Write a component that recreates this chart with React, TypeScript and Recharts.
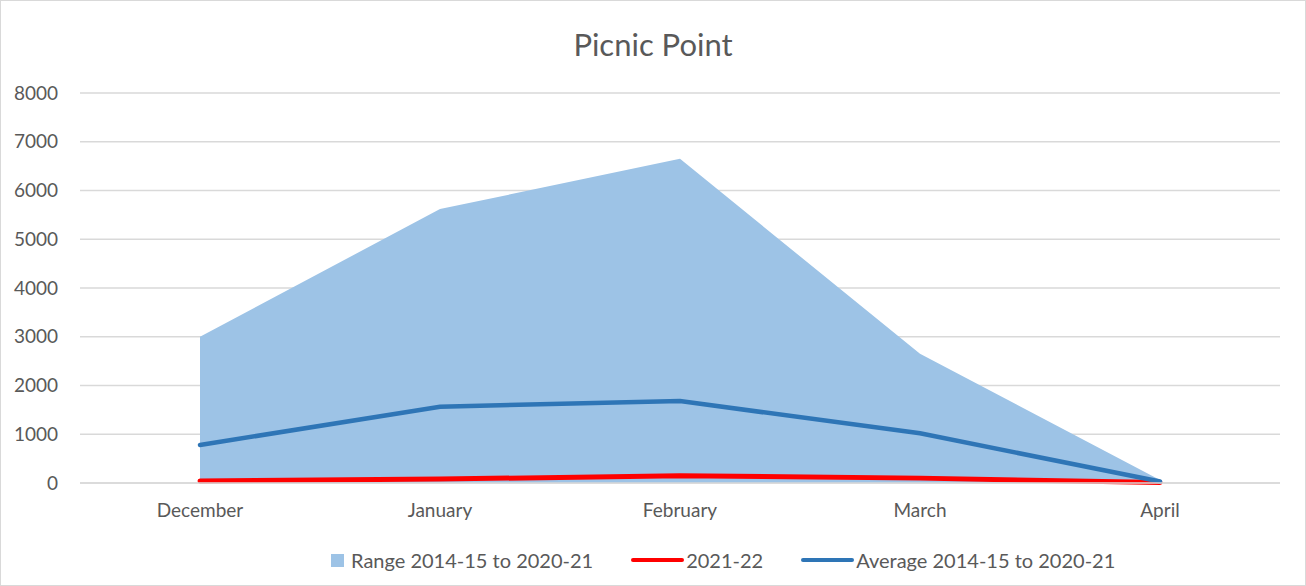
import React from 'react';
import { ComposedChart, Area, Line, XAxis, YAxis, CartesianGrid } from 'recharts';

const months = ['December', 'January', 'February', 'March', 'April'];
const rangeLow = [0, 0, 0, 0, 0];
const rangeHigh = [3000, 5620, 6650, 2650, 60];
const average = [780, 1565, 1680, 1020, 30];
const season2122 = [40, 80, 150, 100, 10];
const yTicks = [0, 1000, 2000, 3000, 4000, 5000, 6000, 7000, 8000];

const FONT = 'Lato, "Open Sans", sans-serif';
const TEXT = '#595959';

const data = months.map((m, i) => ({
  month: m,
  range: [rangeLow[i], rangeHigh[i]],
  avg: average[i],
  current: season2122[i],
}));

const legendItems = [
  { label: 'Range 2014-15 to 2020-21', color: '#9dc3e6', kind: 'box' },
  { label: '2021-22', color: '#ff0000', kind: 'line' },
  { label: 'Average 2014-15 to 2020-21', color: '#2e75b6', kind: 'line' },
];

export default function App() {
  return (
    <div
      style={{
        position: 'absolute',
        left: 0,
        top: 0,
        width: 1306,
        height: 586,
        boxSizing: 'border-box',
        border: '1px solid #d9d9d9',
        background: '#fff',
        fontFamily: FONT,
      }}
    >
      <div
        style={{
          position: 'absolute',
          left: 0,
          right: 0,
          top: 24,
          textAlign: 'center',
          fontSize: 31,
          color: TEXT,
          lineHeight: '38px',
        }}
      >
        Picnic Point
      </div>
      <ComposedChart
        width={1304}
        height={584}
        data={data}
        margin={{ top: 92, right: 25, bottom: 62, left: -1 }}
        style={{ position: 'absolute', left: 0, top: 0 }}
      >
        <CartesianGrid vertical={false} stroke="#d9d9d9" strokeWidth={1.3} />
        <XAxis
          dataKey="month"
          tickLine={false}
          axisLine={{ stroke: '#d9d9d9', strokeWidth: 1.3 }}
          tick={{ fontSize: 19, fill: TEXT, fontFamily: FONT }}
          tickMargin={15}
          padding={{ left: 120, right: 120 }}
          height={40}
        />
        <YAxis
          domain={[0, 8000]}
          ticks={yTicks}
          tickLine={false}
          axisLine={false}
          width={80}
          tick={{ fontSize: 19, fill: TEXT, fontFamily: FONT }}
          tickMargin={16}
        />
        <Area
          type="linear"
          dataKey="range"
          fill="#9dc3e6"
          fillOpacity={1}
          stroke="none"
          isAnimationActive={false}
        />
        <Line
          type="linear"
          dataKey="current"
          stroke="#ff0000"
          strokeWidth={5}
          strokeLinecap="round"
          dot={false}
          isAnimationActive={false}
        />
        <Line
          type="linear"
          dataKey="avg"
          stroke="#2e75b6"
          strokeWidth={4.5}
          strokeLinecap="round"
          dot={false}
          isAnimationActive={false}
        />
      </ComposedChart>
      <div
        style={{
          position: 'absolute',
          left: 330,
          top: 547,
          display: 'flex',
          alignItems: 'center',
          gap: 38,
          fontSize: 20,
          color: TEXT,
          whiteSpace: 'nowrap',
        }}
      >
        {legendItems.map((it) => (
          <div key={it.label} style={{ display: 'flex', alignItems: 'center' }}>
            {it.kind === 'box' ? (
              <span style={{ width: 13, height: 13, background: it.color, marginRight: 7 }} />
            ) : (
              <span style={{ width: 53, height: 4, borderRadius: 2, background: it.color, marginRight: 2 }} />
            )}
            <span>{it.label}</span>
          </div>
        ))}
      </div>
    </div>
  );
}
